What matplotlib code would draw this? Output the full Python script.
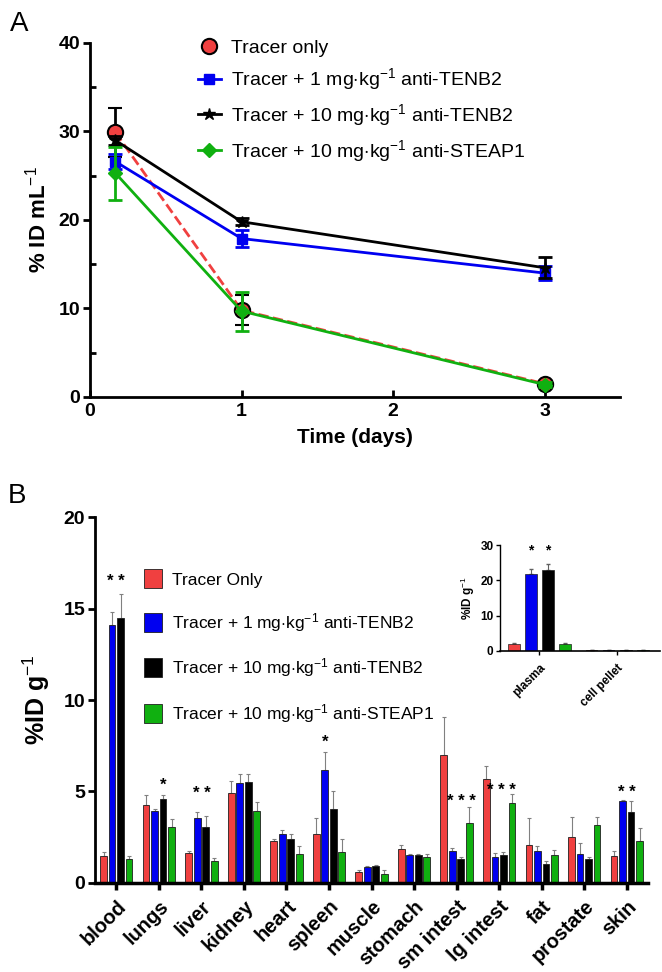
import numpy as np
import matplotlib
matplotlib.use("Agg")
import matplotlib.pyplot as plt
from matplotlib.lines import Line2D

plt.rcParams['font.family'] = ['Liberation Sans', 'DejaVu Sans']
plt.rcParams['mathtext.fontset'] = 'custom'
plt.rcParams['mathtext.rm'] = 'Liberation Sans'
plt.rcParams['mathtext.bf'] = 'Liberation Sans:bold'
plt.rcParams['mathtext.it'] = 'Liberation Sans:italic'

# ---------------- Panel A data ----------------
time_days = [0.167, 1, 3]
a_labels = ["Tracer only",
            r"Tracer + 1 mg$\cdot$kg$^{-1}$ anti-TENB2",
            r"Tracer + 10 mg$\cdot$kg$^{-1}$ anti-TENB2",
            r"Tracer + 10 mg$\cdot$kg$^{-1}$ anti-STEAP1"]
a_tracer = [29.9, 9.8, 1.5]
a_tracer_err = [2.8, 1.7, 0.3]
a_tenb2_1 = [26.6, 17.9, 14.0]
a_tenb2_1_err = [0.8, 1.0, 0.8]
a_tenb2_10 = [29.0, 19.8, 14.6]
a_tenb2_10_err = [0.5, 0.4, 1.2]
a_steap1 = [25.3, 9.7, 1.4]
a_steap1_err = [3.0, 2.2, 0.3]

# ---------------- Panel B data ----------------
organs = ["blood", "lungs", "liver", "kidney", "heart", "spleen", "muscle",
          "stomach", "sm intest", "lg intest", "fat", "prostate", "skin"]
b_labels = ["Tracer Only",
            r"Tracer + 1 mg$\cdot$kg$^{-1}$ anti-TENB2",
            r"Tracer + 10 mg$\cdot$kg$^{-1}$ anti-TENB2",
            r"Tracer + 10 mg$\cdot$kg$^{-1}$ anti-STEAP1"]
b_tracer = [1.5, 4.25, 1.65, 4.94, 2.29, 2.67, 0.6, 1.83, 6.99, 5.67, 2.07, 2.5, 1.5]
b_tracer_err = [0.2, 0.55, 0.1, 0.65, 0.12, 0.88, 0.1, 0.27, 2.1, 0.73, 1.48, 1.1, 0.25]
b_tenb2_1 = [14.1, 3.93, 3.53, 5.49, 2.7, 6.18, 0.9, 1.54, 1.74, 1.41, 1.74, 1.61, 4.46]
b_tenb2_1_err = [0.7, 0.1, 0.37, 0.46, 0.2, 0.97, 0.05, 0.05, 0.16, 0.24, 0.26, 0.59, 0.06]
b_tenb2_10 = [14.5, 4.57, 3.07, 5.54, 2.41, 4.04, 0.92, 1.54, 1.32, 1.54, 1.04, 1.32, 3.9]
b_tenb2_10_err = [1.3, 0.23, 0.58, 0.41, 0.24, 0.96, 0.08, 0.05, 0.08, 0.16, 0.16, 0.08, 0.6]
b_steap1 = [1.3, 3.07, 1.19, 3.93, 1.56, 1.7, 0.5, 1.4, 3.29, 4.36, 1.52, 3.18, 2.29]
b_steap1_err = [0.2, 0.43, 0.16, 0.47, 0.44, 0.7, 0.2, 0.2, 0.86, 0.49, 0.28, 0.42, 0.71]
b_stars = ["* *", "*", "* *", "", "", "*", "", "", "* * *", "* * *", "", "", "* *"]
b_star_y = [16.5, 5.35, 4.9, 0, 0, 7.7, 0, 0, 4.45, 5.05, 0, 0, 4.95]
b_star_off = [0.0, 0.1, 0.0, 0, 0, -0.1, 0, 0, 0.1, 0.05, 0, 0, 0.0]

# inset data
inset_groups = ["plasma", "cell pellet"]
in_tracer = [2.0, 0.1]
in_tracer_err = [0.2, 0.0]
in_tenb2_1 = [21.7, 0.3]
in_tenb2_1_err = [1.6, 0.0]
in_tenb2_10 = [23.0, 0.3]
in_tenb2_10_err = [1.5, 0.0]
in_steap1 = [1.8, 0.1]
in_steap1_err = [0.4, 0.0]
in_stars = ["", "*", "*", ""]

colors = ["#f04040", "#0000f0", "#000000", "#10b010"]

fig = plt.figure(figsize=(6.62, 9.72), dpi=100)

# ================= Panel A =================
axA = fig.add_axes([0.136, 0.5916, 0.801, 0.3642])
mk = dict(capsize=5, capthick=2, elinewidth=2)
axA.errorbar(time_days, a_tracer, yerr=a_tracer_err, color="#f04040", ls="--", lw=2,
             marker="o", ms=11, mfc="#f04040", mec="black", mew=1.5,
             ecolor="black", zorder=3, **mk)
axA.errorbar(time_days, a_tenb2_1, yerr=a_tenb2_1_err, color="#0000f0", ls="-", lw=2,
             marker="s", ms=7, mfc="#0000f0", mec="#0000f0", ecolor="#0000f0", zorder=4, **mk)
axA.errorbar(time_days, a_tenb2_10, yerr=a_tenb2_10_err, color="black", ls="-", lw=2,
             marker="*", ms=9, mfc="black", mec="black", ecolor="black", zorder=5, **mk)
axA.errorbar(time_days, a_steap1, yerr=a_steap1_err, color="#10b010", ls="-", lw=2,
             marker="D", ms=7, mfc="#10b010", mec="#10b010", ecolor="#10b010", zorder=6, **mk)
axA.set_xlim(0, 3.5)
axA.set_ylim(0, 40)
axA.set_xticks([0, 1, 2, 3])
axA.set_yticks([0, 10, 20, 30, 40])
axA.set_yticks([5, 15, 25, 35], minor=True)
for s in ["top", "right"]:
    axA.spines[s].set_visible(False)
for s in ["left", "bottom"]:
    axA.spines[s].set_linewidth(2)
axA.tick_params(axis="x", direction="in", width=2, length=5, labelsize=14, pad=4)
axA.tick_params(axis="y", direction="out", width=2, length=5, labelsize=14, pad=2)
axA.tick_params(axis="y", which="minor", direction="in", width=2, length=4)
for t in axA.get_xticklabels() + axA.get_yticklabels():
    t.set_fontweight("bold")
axA.set_xlabel("Time (days)", fontsize=15, fontweight="bold", labelpad=6)
axA.set_ylabel(r"% ID mL$^{-1}$", fontsize=16, fontweight="bold", labelpad=6)

hA = [Line2D([], [], color="#f04040", ls="none", marker="o", ms=11, mfc="#f04040", mec="black", mew=1.5),
      Line2D([], [], color="#0000f0", lw=2, marker="s", ms=7),
      Line2D([], [], color="black", lw=2, marker="*", ms=9),
      Line2D([], [], color="#10b010", lw=2, marker="D", ms=7)]
axA.legend(hA, a_labels, loc="upper left", bbox_to_anchor=(0.17, 1.06), frameon=False,
           fontsize=14, handlelength=1.2, handletextpad=0.5, labelspacing=0.5)
fig.text(0.015, 0.975, "A", fontsize=20, va="center")

# ================= Panel B =================
axB = fig.add_axes([0.1435, 0.0916, 0.8355, 0.3764])
x = np.arange(len(organs))
bw = 0.16
step = 0.2
series = [(b_tracer, b_tracer_err), (b_tenb2_1, b_tenb2_1_err),
          (b_tenb2_10, b_tenb2_10_err), (b_steap1, b_steap1_err)]
for i, (vals, errs) in enumerate(series):
    pos = x + (i - 1.5) * step
    axB.bar(pos, vals, width=bw, color=colors[i], edgecolor="#202020", linewidth=0.6,
            label=b_labels[i], zorder=2)
    axB.errorbar(pos, vals, yerr=[np.zeros(len(errs)), errs], fmt="none",
                 ecolor="#808080", elinewidth=0.8, capsize=1.5, capthick=0.8, zorder=1)
for xi, s, sy, so in zip(x, b_stars, b_star_y, b_star_off):
    if s:
        axB.text(xi + so, sy, s, ha="center", va="center", fontsize=12, fontweight="bold")
axB.set_xlim(-0.5, 12.5)
axB.set_ylim(0, 20)
axB.set_yticks([0, 5, 10, 15, 20])
axB.set_xticks(x)
axB.set_xticklabels(organs, rotation=45, ha="right", rotation_mode="anchor",
                    fontsize=14.5, fontweight="bold")
for s in ["top", "right"]:
    axB.spines[s].set_visible(False)
axB.spines["left"].set_linewidth(2)
axB.spines["bottom"].set_linewidth(2.5)
axB.tick_params(axis="x", direction="out", width=2.5, length=5, pad=5)
axB.tick_params(axis="y", direction="out", width=2, length=5, labelsize=14, pad=2)
for t in axB.get_yticklabels():
    t.set_fontweight("bold")
axB.set_ylabel(r"%ID g$^{-1}$", fontsize=18, fontweight="bold", labelpad=8)
axB.legend(loc="upper left", bbox_to_anchor=(0.06, 0.9), frameon=False, fontsize=12.5,
           handlelength=1.05, handleheight=1.3, handletextpad=0.55, labelspacing=1.3)
fig.text(0.012, 0.49, "B", fontsize=20, va="center")

# ================= Inset =================
axI = fig.add_axes([0.756, 0.3305, 0.241, 0.1088])
xi_ = np.arange(len(inset_groups))
in_series = [(in_tracer, in_tracer_err), (in_tenb2_1, in_tenb2_1_err),
             (in_tenb2_10, in_tenb2_10_err), (in_steap1, in_steap1_err)]
istep = 0.22
for i, (vals, errs) in enumerate(in_series):
    pos = xi_ + (i - 1.5) * istep
    axI.bar(pos, vals, width=0.15, color=colors[i], edgecolor="#202020", linewidth=0.5, zorder=2)
    axI.errorbar(pos, vals, yerr=[np.zeros(len(errs)), errs], fmt="none",
                 ecolor="#606060", elinewidth=0.8, capsize=1.5, zorder=1)
    if in_stars[i]:
        axI.text(pos[0], 28.5, in_stars[i], ha="center", va="center", fontsize=10, fontweight="bold")
axI.set_xlim(-0.5, 1.55)
axI.set_ylim(0, 30)
axI.set_yticks([0, 10, 20, 30])
axI.set_xticks(xi_)
axI.set_xticklabels(inset_groups, rotation=45, ha="right", rotation_mode="anchor",
                    fontsize=8.5, fontweight="bold")
for s in ["top", "right"]:
    axI.spines[s].set_visible(False)
axI.spines["left"].set_linewidth(1)
axI.spines["bottom"].set_linewidth(1.2)
axI.tick_params(axis="both", direction="out", width=1, length=3, labelsize=8.5, pad=2)
axI.tick_params(axis="x", pad=5)
for t in axI.get_yticklabels():
    t.set_fontweight("bold")
axI.set_ylabel(r"%ID g$^{-1}$", fontsize=8.5, fontweight="bold", labelpad=2)

fig.savefig("out.png", dpi=100)
